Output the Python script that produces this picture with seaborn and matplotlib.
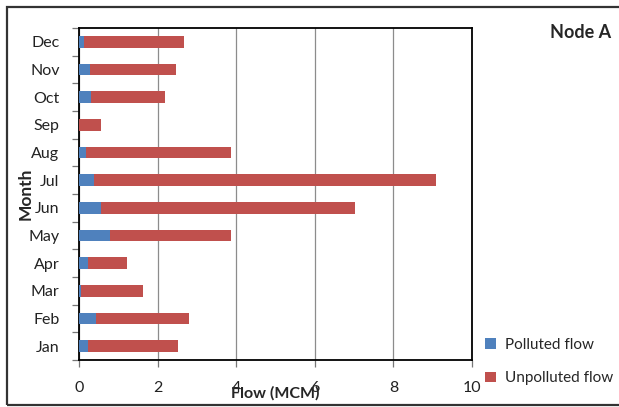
import matplotlib
matplotlib.use("Agg")
import matplotlib.pyplot as plt
import seaborn as sns
import pandas as pd
import numpy as np
from matplotlib.patches import Patch, Rectangle

# Monthly flow at Node A (million cubic metres)
months = ["Jan", "Feb", "Mar", "Apr", "May", "Jun", "Jul", "Aug", "Sep", "Oct", "Nov", "Dec"]
polluted = [0.23, 0.43, 0.05, 0.22, 0.79, 0.56, 0.37, 0.17, 0.00, 0.30, 0.27, 0.13]
unpolluted = [2.30, 2.37, 1.57, 1.01, 3.08, 6.47, 8.72, 3.71, 0.56, 1.89, 2.21, 2.54]
x_ticks = [0, 2, 4, 6, 8, 10]
series_names = ["Polluted flow", "Unpolluted flow"]

BLUE = "#4F81BD"
RED = "#C0504D"

sns.set_style("white")
plt.rcParams["font.family"] = ["Lato", "DejaVu Sans"]

df = pd.DataFrame({"Month": months, "Polluted": polluted, "Unpolluted": unpolluted})
df["Total"] = df["Polluted"] + df["Unpolluted"]
order = months[::-1]

fig = plt.figure(figsize=(6.19, 4.07), dpi=100)
ax = fig.add_axes([79 / 619, 1 - 360 / 407, (472 - 79) / 619, (360 - 28) / 407])

# stacked bars: full total in red, polluted part in blue over it
sns.barplot(data=df, y="Month", x="Total", order=order, color=RED, width=0.42,
            saturation=1, errorbar=None, linewidth=0, ax=ax, zorder=3)
sns.barplot(data=df, y="Month", x="Polluted", order=order, color=BLUE, width=0.42,
            saturation=1, errorbar=None, linewidth=0, ax=ax, zorder=4)

ax.set_xlim(0, 10)
ax.set_xticks(x_ticks)
ax.set_xticklabels([str(t) for t in x_ticks])
ax.set_ylim(len(months) - 0.5, -0.5)
ax.set_yticks(np.arange(-0.5, len(months), 1), minor=True)

ax.set_axisbelow(True)
ax.grid(axis="x", color="#8c8c8c", lw=0.9)
ax.grid(axis="y", visible=False)

for s in ax.spines.values():
    s.set_visible(True)
    s.set_color("black")
    s.set_linewidth(1.3)

ax.tick_params(axis="y", which="major", length=0, pad=14, labelsize=11.5, labelcolor="#222222")
ax.tick_params(axis="y", which="minor", length=5, direction="out", color="#777777", width=0.9, left=True)
ax.tick_params(axis="x", which="major", length=5, direction="out", color="#777777", width=0.9,
               bottom=True, pad=10, labelsize=11.5, labelcolor="#222222")

ax.set_xlabel("Flow (MCM)", fontsize=11.5, fontweight="bold")
ax.xaxis.set_label_coords(0.5, -0.10)
ax.xaxis.label.set_va("center")
ax.set_ylabel("Month", fontsize=12.5, fontweight="bold")
ax.yaxis.set_label_coords(-0.137, 0.5)
ax.yaxis.label.set_va("center")

fig.text(581 / 619, 1 - 33 / 407, "Node A", ha="center", va="center",
         fontsize=13, fontweight="bold")

handles = [Patch(facecolor=BLUE, edgecolor="none"), Patch(facecolor=RED, edgecolor="none")]
fig.legend(handles, series_names, loc="center left",
           bbox_to_anchor=(485 / 619, 1 - 361.5 / 407), frameon=False,
           fontsize=11, handlelength=0.7, handleheight=0.7, handletextpad=0.6,
           labelspacing=1.3, borderpad=0, borderaxespad=0)

# outer chart border
fig.patches.append(Rectangle((7 / 619, 2 / 407), 1.2, 1 - 9 / 407, transform=fig.transFigure,
                             fill=False, edgecolor="#333333", lw=1.6, figure=fig))

fig.savefig("out.png", dpi=100)
